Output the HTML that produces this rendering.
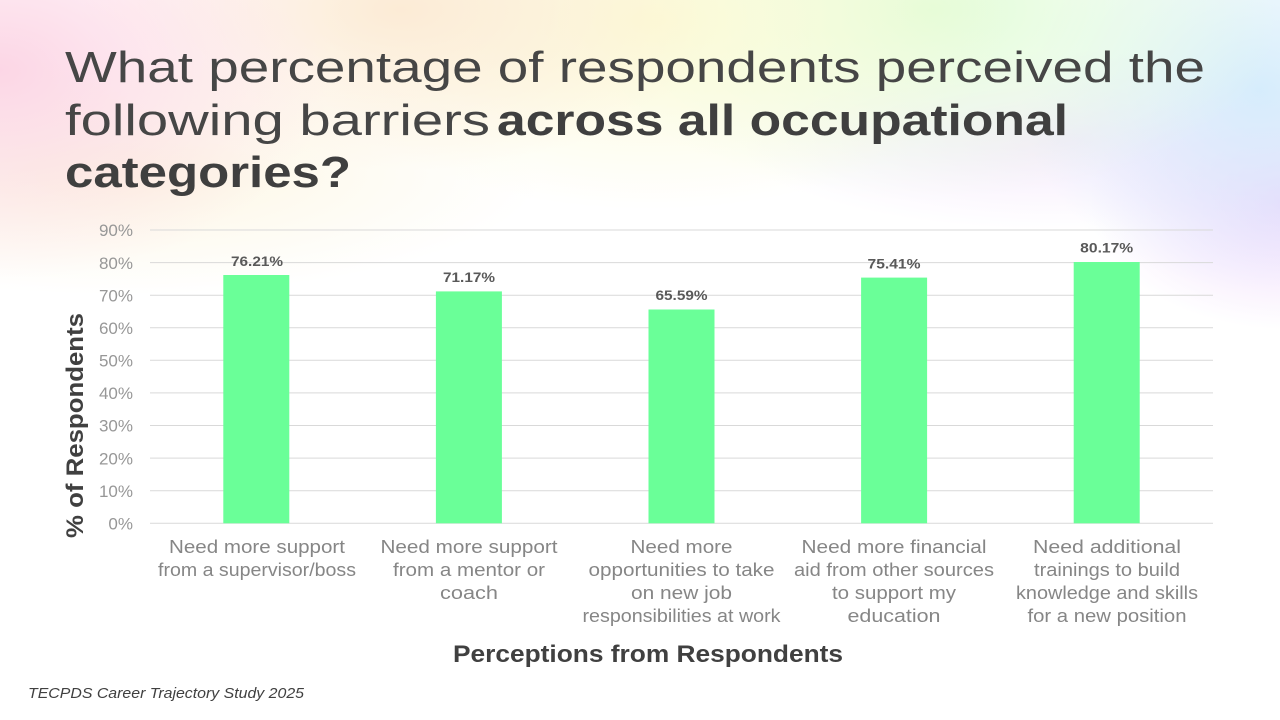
<!DOCTYPE html>
<html>
<head>
<meta charset="utf-8">
<style>
  html, body { margin: 0; padding: 0; }
  body { width: 1280px; height: 720px; overflow: hidden; position: relative; background: #ffffff; }
  #bg {
    position: absolute; left: 0; top: 0; width: 1280px; height: 720px;
    background:
      radial-gradient(ellipse 330px 210px at 0px 70px, rgba(252,212,228,0.95), rgba(252,212,228,0) 100%),
      radial-gradient(ellipse 320px 160px at 400px 10px, rgba(252,234,212,0.95), rgba(252,234,212,0) 100%),
      radial-gradient(ellipse 360px 190px at 650px 20px, rgba(252,250,212,0.95), rgba(252,250,212,0) 100%),
      radial-gradient(ellipse 360px 190px at 930px 10px, rgba(224,252,214,0.95), rgba(224,252,214,0) 100%),
      radial-gradient(ellipse 240px 200px at 1260px 90px, rgba(212,236,252,0.95), rgba(212,236,252,0) 100%),
      radial-gradient(ellipse 200px 130px at 1290px 200px, rgba(238,212,252,0.95), rgba(238,212,252,0) 100%),
      radial-gradient(ellipse 320px 90px at 1060px 140px, rgba(240,220,252,0.6), rgba(240,220,252,0) 100%),
      radial-gradient(ellipse 420px 120px at 120px 175px, rgba(252,245,222,0.85), rgba(252,245,222,0) 100%),
      #ffffff;
  }
  svg { position: absolute; left: 0; top: 0; }
</style>
</head>
<body>
<div id="bg"></div>
<svg width="1280" height="720" viewBox="0 0 1280 720" xmlns="http://www.w3.org/2000/svg" font-family="'Liberation Sans', sans-serif">
  <!-- Title -->
  <g fill="#3f3f3f" font-size="44">
    <text x="65" y="82" fill="#464646" textLength="1140" lengthAdjust="spacingAndGlyphs">What percentage of respondents perceived the</text>
    <text x="65" y="135" fill="#464646" textLength="425" lengthAdjust="spacingAndGlyphs">following barriers</text>
    <text x="497" y="135" font-weight="bold" textLength="571" lengthAdjust="spacingAndGlyphs">across all occupational</text>
    <text x="65" y="187" font-weight="bold" textLength="286" lengthAdjust="spacingAndGlyphs">categories?</text>
  </g>

  <!-- Gridlines -->
  <g stroke="#d9d9d9" stroke-width="1">
    <line x1="150" x2="1213" y1="523.3" y2="523.3"/>
    <line x1="150" x2="1213" y1="490.7" y2="490.7"/>
    <line x1="150" x2="1213" y1="458.1" y2="458.1"/>
    <line x1="150" x2="1213" y1="425.5" y2="425.5"/>
    <line x1="150" x2="1213" y1="392.9" y2="392.9"/>
    <line x1="150" x2="1213" y1="360.3" y2="360.3"/>
    <line x1="150" x2="1213" y1="327.7" y2="327.7"/>
    <line x1="150" x2="1213" y1="295.2" y2="295.2"/>
    <line x1="150" x2="1213" y1="262.6" y2="262.6"/>
    <line x1="150" x2="1213" y1="230.0" y2="230.0"/>
  </g>

  <!-- Y tick labels -->
  <g fill="#979797" font-size="17" text-anchor="end">
    <text x="133" y="529.5">0%</text>
    <text x="133" y="496.9">10%</text>
    <text x="133" y="464.3">20%</text>
    <text x="133" y="431.7">30%</text>
    <text x="133" y="399.1">40%</text>
    <text x="133" y="366.5">50%</text>
    <text x="133" y="333.9">60%</text>
    <text x="133" y="301.4">70%</text>
    <text x="133" y="268.8">80%</text>
    <text x="133" y="236.2">90%</text>
  </g>

  <!-- Bars -->
  <g fill="#6aff98">
    <rect x="223.3" y="275.0" width="66" height="248.3"/>
    <rect x="435.9" y="291.4" width="66" height="231.9"/>
    <rect x="648.5" y="309.5" width="66" height="213.8"/>
    <rect x="861.1" y="277.6" width="66" height="245.7"/>
    <rect x="1073.7" y="262.0" width="66" height="261.3"/>
  </g>

  <!-- Data labels -->
  <g fill="#595959" font-size="14" font-weight="bold" text-anchor="middle">
    <text x="257" y="266" textLength="52" lengthAdjust="spacingAndGlyphs">76.21%</text>
    <text x="469" y="282" textLength="52" lengthAdjust="spacingAndGlyphs">71.17%</text>
    <text x="681.5" y="300" textLength="52" lengthAdjust="spacingAndGlyphs">65.59%</text>
    <text x="894" y="268.3" textLength="53" lengthAdjust="spacingAndGlyphs">75.41%</text>
    <text x="1106.7" y="252.5" textLength="53" lengthAdjust="spacingAndGlyphs">80.17%</text>
  </g>

  <!-- Category labels -->
  <g fill="#868686" font-size="18" text-anchor="middle">
    <text x="257" y="553" textLength="176" lengthAdjust="spacingAndGlyphs">Need more support</text>
    <text x="257" y="576" textLength="198" lengthAdjust="spacingAndGlyphs">from a supervisor/boss</text>

    <text x="469" y="553" textLength="177" lengthAdjust="spacingAndGlyphs">Need more support</text>
    <text x="469" y="576" textLength="152" lengthAdjust="spacingAndGlyphs">from a mentor or</text>
    <text x="469" y="599" textLength="58" lengthAdjust="spacingAndGlyphs">coach</text>

    <text x="681.5" y="553" textLength="102" lengthAdjust="spacingAndGlyphs">Need more</text>
    <text x="681.5" y="576" textLength="186" lengthAdjust="spacingAndGlyphs">opportunities to take</text>
    <text x="681.5" y="599" textLength="101" lengthAdjust="spacingAndGlyphs">on new job</text>
    <text x="681.5" y="622" textLength="198" lengthAdjust="spacingAndGlyphs">responsibilities at work</text>

    <text x="894" y="553" textLength="185" lengthAdjust="spacingAndGlyphs">Need more financial</text>
    <text x="894" y="576" textLength="200" lengthAdjust="spacingAndGlyphs">aid from other sources</text>
    <text x="894" y="599" textLength="124" lengthAdjust="spacingAndGlyphs">to support my</text>
    <text x="894" y="622" textLength="93" lengthAdjust="spacingAndGlyphs">education</text>

    <text x="1107" y="553" textLength="148" lengthAdjust="spacingAndGlyphs">Need additional</text>
    <text x="1107" y="576" textLength="146" lengthAdjust="spacingAndGlyphs">trainings to build</text>
    <text x="1107" y="599" textLength="182" lengthAdjust="spacingAndGlyphs">knowledge and skills</text>
    <text x="1107" y="622" textLength="159" lengthAdjust="spacingAndGlyphs">for a new position</text>
  </g>

  <!-- Axis titles -->
  <text x="648" y="662" fill="#404040" font-size="24" font-weight="bold" text-anchor="middle" textLength="390" lengthAdjust="spacingAndGlyphs">Perceptions from Respondents</text>
  <text transform="translate(83,425.5) rotate(-90)" x="0" y="0" fill="#404040" font-size="24" font-weight="bold" text-anchor="middle" textLength="225" lengthAdjust="spacingAndGlyphs">% of Respondents</text>

  <!-- Footer -->
  <text x="28" y="698" fill="#404040" font-size="15" font-style="italic" textLength="276" lengthAdjust="spacingAndGlyphs">TECPDS Career Trajectory Study 2025</text>
</svg>
</body>
</html>
